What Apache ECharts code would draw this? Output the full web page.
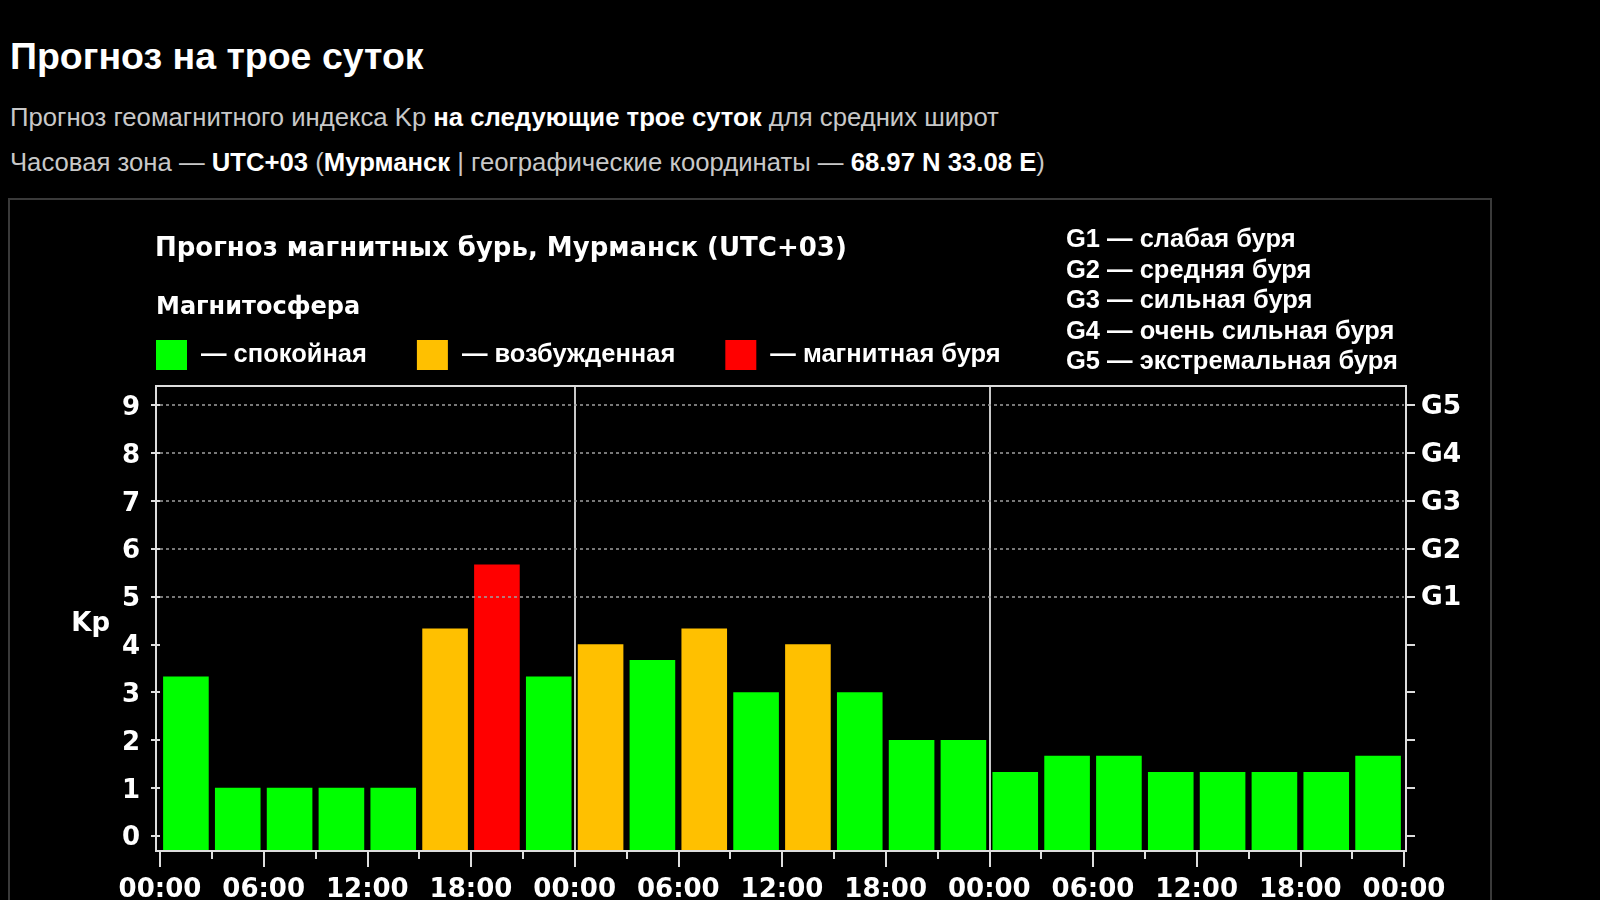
<!DOCTYPE html>
<html lang="ru">
<head>
<meta charset="utf-8">
<title>Прогноз на трое суток</title>
<script src="https://cdn.jsdelivr.net/npm/echarts@6/dist/echarts.min.js"></script>
<style>
    html, body { margin: 0; padding: 0; background: #000; }
    body { width: 1600px; height: 900px; overflow: hidden; position: relative;
           font-family: "Liberation Sans", Arial, sans-serif; }
    h1 { position: absolute; left: 10px; top: 37px; margin: 0; font-size: 37.5px; line-height: 38px;
         color: #fff; font-weight: bold; }
    .sub { position: absolute; left: 10px; margin: 0; font-size: 25.7px; line-height: 28px; color: #c8c8c8; }
    .sub b { color: #fff; }
    #box { position: absolute; left: 8px; top: 198px; width: 1480px; height: 800px;
           border: 2px solid #3a3a3a; }
    #chart { position: absolute; left: 0; top: 0; width: 1600px; height: 900px; }
</style>
</head>
<body>
<h1>Прогноз на трое суток</h1>
<p class="sub" style="top:103px">Прогноз геомагнитного индекса Kp <b>на следующие трое суток</b> для средних широт</p>
<p class="sub" style="top:148px">Часовая зона — <b>UTC+03</b> (<b>Мурманск</b> | географические координаты — <b>68.97 N 33.08 E</b>)</p>
<div id="box"></div>
<div id="chart"></div>
<script>
// интервалы по 3 часа, трое суток
var slots = [
    'д1 00-03', 'д1 03-06', 'д1 06-09', 'д1 09-12', 'д1 12-15', 'д1 15-18', 'д1 18-21', 'д1 21-24',
    'д2 00-03', 'д2 03-06', 'д2 06-09', 'д2 09-12', 'д2 12-15', 'д2 15-18', 'д2 18-21', 'д2 21-24',
    'д3 00-03', 'д3 03-06', 'д3 06-09', 'д3 09-12', 'д3 12-15', 'д3 15-18', 'д3 18-21', 'д3 21-24'
];
// прогноз Kp
var kp = [
    3.33, 1, 1, 1, 1, 4.33, 5.67, 3.33,
    4, 3.67, 4.33, 3, 4, 3, 2, 2,
    1.33, 1.67, 1.67, 1.33, 1.33, 1.33, 1.33, 1.67
];
var timeLabels = ['00:00', '06:00', '12:00', '18:00', '00:00', '06:00', '12:00', '18:00',
                  '00:00', '06:00', '12:00', '18:00', '00:00'];
var kpTicks = [0, 1, 2, 3, 4, 5, 6, 7, 8, 9];
var stormLevels = [5, 6, 7, 8, 9];
var stormLabels = ['G1', 'G2', 'G3', 'G4', 'G5'];
var stormNames = [
    'G1 — слабая буря',
    'G2 — средняя буря',
    'G3 — сильная буря',
    'G4 — очень сильная буря',
    'G5 — экстремальная буря'
];
var stateNames = ['спокойная', 'возбужденная', 'магнитная буря'];
var stateColors = ['#00ff00', '#ffc000', '#ff0000'];

var FONT = '"Liberation Sans", Arial, sans-serif';
var WIDE = '"DejaVu Sans", Verdana, sans-serif';
var AXIS = '#dddddd';
var DAY = '#c8c8c8';
var NONE = 'transparent';

function stateOf(v) {
    if (v >= 5) return 2;
    if (v >= 4) return 1;
    return 0;
}

var myChart = echarts.init(document.getElementById('chart'));

var series = stateNames.map(function (name, s) {
    return {
        name: name,
        type: 'bar',
        xAxisIndex: 0,
        yAxisIndex: 0,
        barGap: '-100%',
        barCategoryGap: '12%',
        itemStyle: { color: stateColors[s] },
        silent: true,
        data: kp.map(function (v) { return stateOf(v) === s ? v : '-'; })
    };
});
// пунктир уровней бурь
series[0].markLine = {
    silent: true,
    symbol: 'none',
    label: { show: false },
    lineStyle: { color: '#a0a0a0', type: [3, 3], width: 1.5 },
    data: stormLevels.map(function (v) { return { yAxis: v }; })
};

myChart.setOption({
    backgroundColor: 'transparent',
    animation: false,
    textStyle: { fontFamily: FONT },
    title: [
        {
            text: 'Прогноз магнитных бурь, Мурманск (UTC+03)',
            left: 155, top: 236, padding: 0,
            textStyle: { color: '#fff', fontSize: 26, fontWeight: 'bold', fontFamily: WIDE }
        },
        {
            text: 'Магнитосфера',
            left: 156, top: 296, padding: 0,
            textStyle: { color: '#fff', fontSize: 24, fontWeight: 'bold', fontFamily: WIDE }
        },
        {
            text: stormNames.join('\n'),
            left: 1066, top: 225, padding: 0,
            textStyle: { color: '#fff', fontSize: 25.5, fontWeight: 'bold', lineHeight: 30.5, fontFamily: FONT }
        }
    ],
    legend: {
        left: 156, top: 340,
        icon: 'rect',
        itemWidth: 31, itemHeight: 30, itemGap: 50,
        selectedMode: false,
        padding: 0,
        formatter: '— {name}',
        textStyle: { color: '#fff', fontSize: 25.5, fontWeight: 'bold', fontFamily: FONT, padding: [0, 0, 0, 9] },
        data: stateNames
    },
    grid: {
        left: 160, top: 386, width: 1244, height: 465,
        outerBoundsMode: 'none',
        containLabel: false,
        show: false
    },
    graphic: [{
        type: 'rect',
        silent: true,
        shape: { x: 156, y: 386, width: 1250, height: 465 },
        style: { fill: 'none', stroke: AXIS, lineWidth: 2 },
        z: 5
    }],
    xAxis: [
        {
            type: 'category',
            data: slots,
            boundaryGap: true,
            show: false
        },
        {
            type: 'value',
            position: 'bottom',
            min: 0, max: 72, interval: 6,
            axisLine: { show: false, onZero: false },
            axisTick: { show: true, length: 16, lineStyle: { color: AXIS, width: 2 } },
            minorTick: { show: true, splitNumber: 2, length: 8, lineStyle: { color: AXIS, width: 2 } },
            splitLine: {
                show: true,
                // линии только на границах суток
                lineStyle: {
                    color: [NONE, NONE, NONE, NONE, DAY, NONE, NONE, NONE, DAY, NONE, NONE, NONE],
                    width: 2
                }
            },
            axisLabel: {
                color: '#fff', fontSize: 26, fontWeight: 'bold', margin: 26, fontFamily: WIDE,
                formatter: function (v) { return timeLabels[Math.round(v / 6)]; }
            }
        }
    ],
    yAxis: [
        {
            type: 'value',
            position: 'left',
            offset: 4,
            min: -0.32, max: 9.4,
            startValue: -0.32,
            name: 'Kp',
            nameLocation: 'middle',
            nameRotate: 0,
            nameGap: 46,
            nameTextStyle: {
                color: '#fff', fontSize: 26, fontWeight: 'bold', fontFamily: WIDE,
                verticalAlign: 'top', lineHeight: 12
            },
            axisLine: { show: false },
            axisTick: { show: true, length: 9, customValues: kpTicks, lineStyle: { color: AXIS, width: 2 } },
            axisLabel: {
                color: '#fff', fontSize: 26, fontWeight: 'bold', margin: 16, fontFamily: WIDE,
                verticalAlign: 'top', lineHeight: 6,
                customValues: kpTicks
            },
            splitLine: { show: false }
        },
        {
            type: 'value',
            position: 'right',
            offset: 2,
            min: -0.32, max: 9.4,
            axisLine: { show: false },
            axisTick: { show: true, length: 9, customValues: kpTicks, lineStyle: { color: AXIS, width: 2 } },
            axisLabel: {
                color: '#fff', fontSize: 26.5, fontWeight: 'bold', margin: 15, fontFamily: WIDE,
                verticalAlign: 'top', lineHeight: 4,
                customValues: stormLevels,
                formatter: function (v) { return stormLabels[stormLevels.indexOf(Math.round(v))]; }
            },
            splitLine: { show: false }
        }
    ],
    series: series
});
</script>
</body>
</html>
